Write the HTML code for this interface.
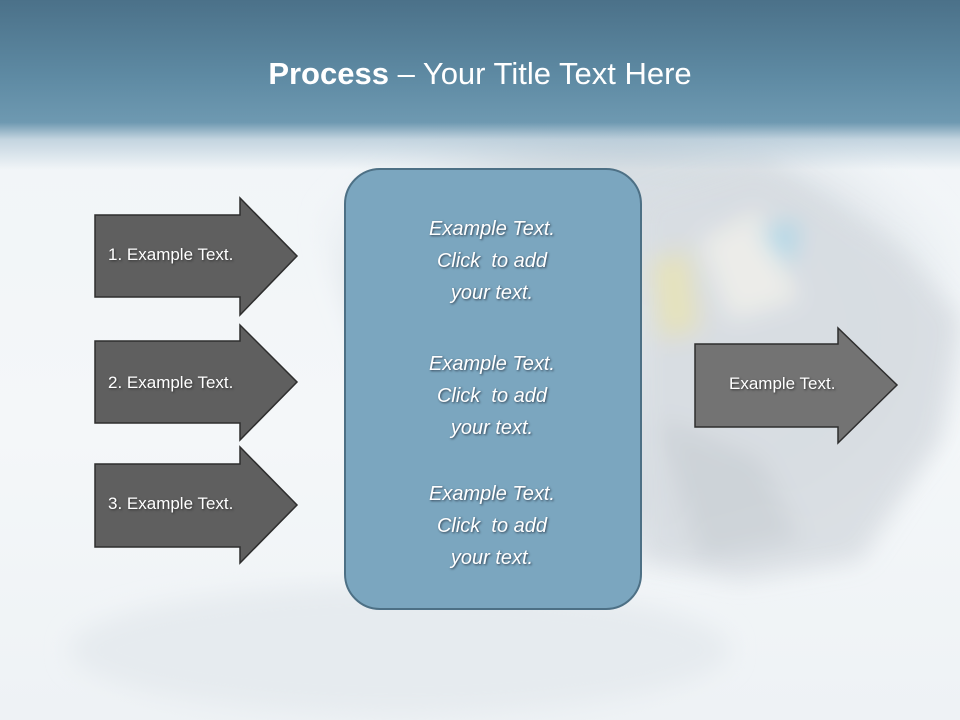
<!DOCTYPE html>
<html><head><style>
body{margin:0;width:960px;height:720px;overflow:hidden;font-family:"Liberation Sans",sans-serif;}
.bg{position:absolute;left:0;top:0;width:960px;height:720px;background:linear-gradient(#f0f4f7,#f4f7f9 60%,#eef2f5);}
.hdr{position:absolute;left:0;top:0;width:960px;height:170px;background:linear-gradient(#4b7189 0%,#5e8aa3 45%,#6e99b1 72%,rgba(150,180,200,.5) 82%,rgba(240,244,247,0) 100%);}
.title{position:absolute;top:56px;width:960px;text-align:center;color:#fff;font-size:31px;}
.t{position:absolute;color:#fff;font-size:17px;text-shadow:1px 1px 2px #333;}
.bx{position:absolute;left:344px;top:168px;width:294px;height:438px;border:2px solid #4d7085;border-radius:36px;background:#7ba6bf;}
.it{position:absolute;left:344px;width:296px;text-align:center;color:#fff;font-style:italic;font-size:20px;line-height:32px;text-shadow:1px 1px 2px #345;}
</style></head><body>
<div class="bg"></div>
<svg style="position:absolute;left:0;top:0" width="960" height="720">
<defs><radialGradient id="d" cx="0.5" cy="0.45" r="0.55"><stop offset="0" stop-color="#e2e7eb"/><stop offset=".7" stop-color="#d6dde2"/><stop offset="1" stop-color="#e9eef2" stop-opacity="0"/></radialGradient>
<filter id="b"><feGaussianBlur stdDeviation="12"/></filter></defs>
<ellipse cx="400" cy="650" rx="330" ry="65" fill="#e6ebef" filter="url(#b)"/>
<polygon points="300,130 960,130 960,420 820,580 640,580 400,440 330,260" fill="url(#d)" filter="url(#b)"/>
<g filter="url(#b)" opacity=".9">
<polygon points="640,200 760,160 900,250 960,320 940,440 860,560 740,580 640,560" fill="#d8dde2"/>
<polygon points="700,240 760,210 800,300 730,320" fill="#eeeeea"/>
<polygon points="650,260 690,250 700,330 660,340" fill="#e6e2b8"/>
<polygon points="760,230 800,220 790,270" fill="#a8d6e8"/>
<polygon points="660,420 760,460 800,540 700,560" fill="#ccd2d7"/>
</g>
<polygon points="95,215 240,215 240,198 297,256 240,315 240,297 95,297" fill="#5f5f5f" stroke="#2e2e2e" stroke-width="1.5"/>
<polygon points="95,341 240,341 240,325 297,382 240,440 240,423 95,423" fill="#5f5f5f" stroke="#2e2e2e" stroke-width="1.5"/>
<polygon points="95,464 240,464 240,447 297,505 240,563 240,547 95,547" fill="#5f5f5f" stroke="#2e2e2e" stroke-width="1.5"/>
<polygon points="695,344 838,344 838,328 897,385 838,443 838,427 695,427" fill="#737373" stroke="#2e2e2e" stroke-width="1.5"/>
</svg>
<div class="hdr"></div>
<div class="title"><b>Process</b> – Your Title Text Here</div>
<div class="t" style="left:108px;top:245px">1. Example Text.</div>
<div class="t" style="left:108px;top:373px">2. Example Text.</div>
<div class="t" style="left:108px;top:494px">3. Example Text.</div>
<div class="t" style="left:729px;top:374px">Example Text.</div>
<div class="bx"></div>
<div class="it" style="top:213px">Example Text.<br>Click&nbsp; to add<br>your text.</div>
<div class="it" style="top:348px">Example Text.<br>Click&nbsp; to add<br>your text.</div>
<div class="it" style="top:478px">Example Text.<br>Click&nbsp; to add<br>your text.</div>
</body></html>
